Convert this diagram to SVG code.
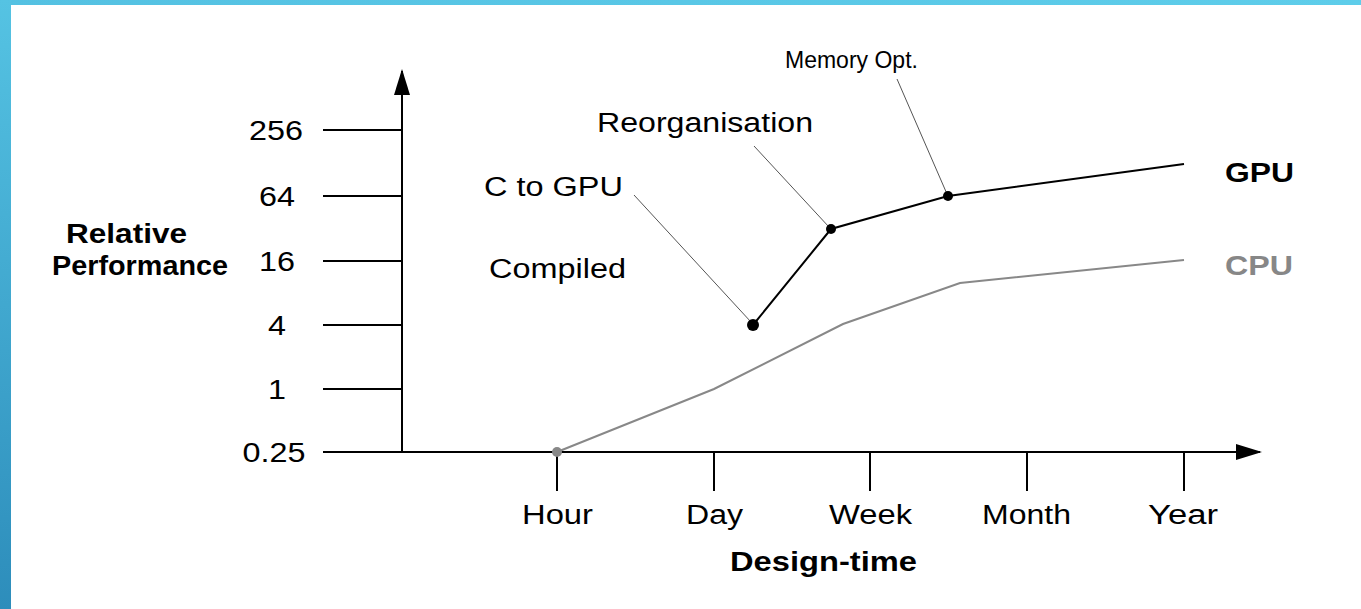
<svg xmlns="http://www.w3.org/2000/svg" width="1361" height="609" viewBox="0 0 1361 609">
  <defs>
    <linearGradient id="sideBar" x1="0" y1="0" x2="0" y2="1">
      <stop offset="0" stop-color="#55c3e3"/>
      <stop offset="1" stop-color="#2d8dbb"/>
    </linearGradient>
    <linearGradient id="topBar" x1="0" y1="0" x2="1" y2="0">
      <stop offset="0" stop-color="#54c1e2"/>
      <stop offset="1" stop-color="#5ecdea"/>
    </linearGradient>
    <marker id="arrow" viewBox="0 0 26 16" refX="24" refY="8" markerWidth="26" markerHeight="16" markerUnits="userSpaceOnUse" orient="auto">
      <path d="M0,0 L26,8 L0,16 Z" fill="#000"/>
    </marker>
  </defs>
  <style>
    text { font-family: "Liberation Sans", Arial, sans-serif; font-size: 27px; fill: #000; }
    .small { font-size: 23px; }
    .num { text-anchor: middle; }
    .b { font-weight: bold; }
    .grey { fill: #878787; }
    .axis { stroke: #000; stroke-width: 2; fill: none; }
    .tick { stroke: #000; stroke-width: 2; }
    .gpu { stroke: #000; stroke-width: 2; fill: none; }
    .cpu { stroke: #888; stroke-width: 2; fill: none; }
    .lead { stroke: #555; stroke-width: 1; }
  </style>

  <rect width="1361" height="609" fill="#fff"/>
  <rect x="0" y="0" width="1361" height="5" fill="url(#topBar)"/>
  <rect x="0" y="0" width="11" height="609" fill="url(#sideBar)"/>

  <!-- axes and ticks -->
  <g id="axes">
    <line class="axis" x1="402" y1="452" x2="402" y2="71" marker-end="url(#arrow)"/>
    <line class="axis" x1="323" y1="452" x2="1260" y2="452" marker-end="url(#arrow)"/>
    <line class="tick" x1="323" y1="130" x2="402" y2="130"/>
    <line class="tick" x1="323" y1="196" x2="402" y2="196"/>
    <line class="tick" x1="323" y1="261" x2="402" y2="261"/>
    <line class="tick" x1="323" y1="325" x2="402" y2="325"/>
    <line class="tick" x1="323" y1="389" x2="402" y2="389"/>
    <line class="tick" x1="557" y1="452" x2="557" y2="491"/>
    <line class="tick" x1="714" y1="452" x2="714" y2="491"/>
    <line class="tick" x1="870" y1="452" x2="870" y2="491"/>
    <line class="tick" x1="1027" y1="452" x2="1027" y2="491"/>
    <line class="tick" x1="1184" y1="452" x2="1184" y2="491"/>
  </g>

  <!-- axis labels -->
  <g id="y-labels">
    <text class="num" x="276" y="140" textLength="54" lengthAdjust="spacingAndGlyphs">256</text>
    <text class="num" x="277" y="206" textLength="36" lengthAdjust="spacingAndGlyphs">64</text>
    <text class="num" x="277" y="271" textLength="36" lengthAdjust="spacingAndGlyphs">16</text>
    <text class="num" x="277" y="335" textLength="18" lengthAdjust="spacingAndGlyphs">4</text>
    <text class="num" x="277" y="399" textLength="18" lengthAdjust="spacingAndGlyphs">1</text>
    <text class="num" x="274" y="462" textLength="63" lengthAdjust="spacingAndGlyphs">0.25</text>
  </g>
  <g id="x-labels">
    <text x="522" y="524" textLength="71" lengthAdjust="spacingAndGlyphs">Hour</text>
    <text x="686" y="524" textLength="57" lengthAdjust="spacingAndGlyphs">Day</text>
    <text x="829" y="524" textLength="83" lengthAdjust="spacingAndGlyphs">Week</text>
    <text x="982" y="524" textLength="89" lengthAdjust="spacingAndGlyphs">Month</text>
    <text x="1148" y="524" textLength="70" lengthAdjust="spacingAndGlyphs">Year</text>
  </g>
  <g id="axis-titles">
    <text class="b" x="730" y="571" textLength="187" lengthAdjust="spacingAndGlyphs">Design-time</text>
    <text class="b" x="66" y="243" textLength="121" lengthAdjust="spacingAndGlyphs">Relative</text>
    <text class="b" x="52" y="275" textLength="176" lengthAdjust="spacingAndGlyphs">Performance</text>
  </g>

  <!-- performance curves -->
  <g id="connectors">
    <polyline class="cpu" points="557,452 714,389 843,324 960,283 1184,260"/>
    <polyline class="gpu" points="753,325 831,229 948,196 1184,164"/>
    <line class="lead" x1="634" y1="195" x2="751" y2="322"/>
    <line class="lead" x1="754" y1="146" x2="829" y2="227"/>
    <line class="lead" x1="897" y1="79" x2="947" y2="194"/>
  </g>

  <g id="cpu-start"><circle cx="557" cy="452" r="5" fill="#888"/></g>
  <g id="c-to-gpu-point"><circle cx="753" cy="325" r="6" fill="#000"/></g>
  <g id="reorg-point"><circle cx="831" cy="229" r="5" fill="#000"/></g>
  <g id="memopt-point"><circle cx="948" cy="196" r="5" fill="#000"/></g>

  <!-- annotations -->
  <g id="annotations">
    <text class="small" x="785" y="68">Memory Opt.</text>
    <text x="597" y="132" textLength="216" lengthAdjust="spacingAndGlyphs">Reorganisation</text>
    <text x="484" y="196" textLength="139" lengthAdjust="spacingAndGlyphs">C to GPU</text>
    <text x="489" y="278" textLength="137" lengthAdjust="spacingAndGlyphs">Compiled</text>
  </g>
  <g id="series-labels">
    <text class="b" x="1225" y="182" textLength="69" lengthAdjust="spacingAndGlyphs">GPU</text>
    <text class="b grey" x="1225" y="275" textLength="68" lengthAdjust="spacingAndGlyphs">CPU</text>
  </g>
</svg>
